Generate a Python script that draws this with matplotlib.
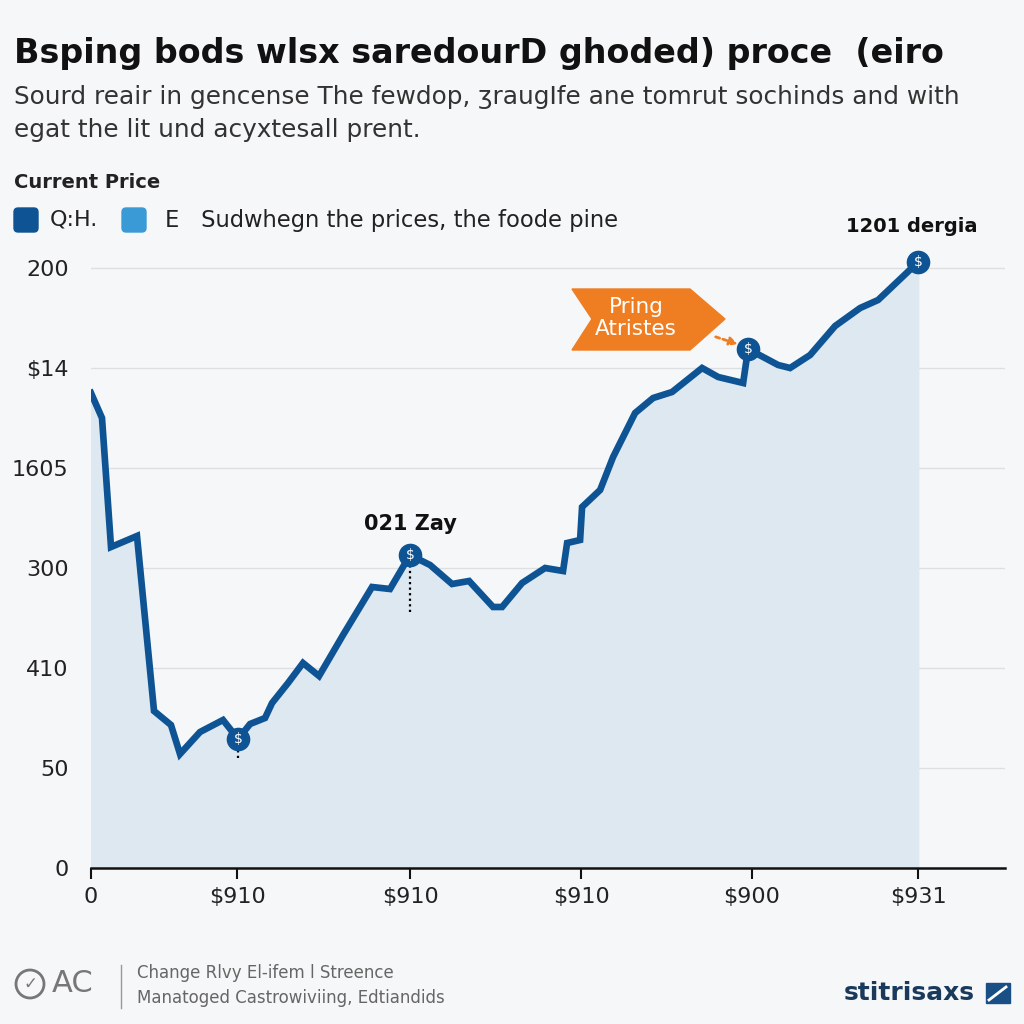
"""Price line chart with shaded area, header, legend and footer
"""

import matplotlib
matplotlib.use('Agg')
import matplotlib.pyplot as plt
from matplotlib.patches import Polygon, FancyBboxPatch, Circle

# Chart data
x_vals = [0.0, 1.33, 2.42, 5.56, 7.62, 9.67, 10.76, 13.18, 15.96, 17.78, 19.23, 21.04,
          21.89, 23.82, 25.63, 27.57, 30.47, 33.98, 36.15, 38.57, 40.99, 43.65, 45.71,
          48.61, 49.70, 52.12, 54.90, 57.07, 57.56, 59.13, 59.37, 61.55, 63.12, 65.78,
          67.96, 70.25, 73.88, 75.82, 78.84, 79.44, 83.07, 84.52, 86.94, 89.96, 92.99,
          95.16, 100.0]
prices = [4.75, 4.50, 3.21, 3.32, 1.57, 1.43, 1.14, 1.36, 1.48, 1.29, 1.44, 1.50,
          1.65, 1.85, 2.05, 1.92, 2.33, 2.81, 2.79, 3.13, 3.03, 2.84, 2.87,
          2.61, 2.61, 2.85, 3.00, 2.97, 3.25, 3.28, 3.61, 3.78, 4.11, 4.55,
          4.70, 4.76, 5.00, 4.91, 4.85, 5.19, 5.03, 5.00, 5.13, 5.42, 5.60,
          5.68, 6.06]

marker_x = [17.78, 38.57, 79.44, 100.0]
marker_y = [1.29, 3.13, 5.19, 6.06]
marker_glyph = ['$', '$', '$', '$']

x_ticks = [0, 17.7, 38.6, 59.3, 79.9, 100]
x_labels = ['0', '$910', '$910', '$910', '$900', '$931']
y_ticks = [0, 1, 2, 3, 4, 5, 6]
y_labels = ['0', '50', '410', '300', '1605', '$14', '200']

# Colours
bg = '#f6f7f8'
line_blue = '#0e5494'
fill_blue = '#dde8f1'
light_blue = '#3a9ad6'
orange = '#ef7d22'

fig = plt.figure(figsize=(10.24, 10.24), dpi=100, facecolor=bg)
ax = fig.add_axes([91 / 1024, 1 - 868 / 1024, (1005 - 91) / 1024, (868 - 250) / 1024])
ax.set_facecolor(bg)

# Area and line
ax.fill_between(x_vals, prices, 0, color=fill_blue, zorder=1)
ax.plot(x_vals, prices, color=line_blue, lw=4.8, solid_joinstyle='miter', zorder=3)

# Dotted drop lines below two highlighted points
ax.vlines(marker_x[0], 1.10, marker_y[0], colors='black', linestyles=(0, (1, 1.5)), lw=1.6, zorder=2)
ax.vlines(marker_x[1], 2.56, marker_y[1], colors='black', linestyles=(0, (1, 1.5)), lw=1.6, zorder=2)

# Highlighted points
ax.plot(marker_x, marker_y, 'o', ms=16, color=line_blue, zorder=4)
for mx, my, g in zip(marker_x, marker_y, marker_glyph):
    ax.text(mx, my, g, color='white', fontsize=10, ha='center', va='center', zorder=5)

ax.text(marker_x[1], marker_y[1] + 0.31, '021 Zay', fontsize=15, fontweight='bold',
        ha='center', va='center', color='#111111')
ax.text(marker_x[3] - 0.8, marker_y[3] + 0.35, '1201 dergia', fontsize=14, fontweight='bold',
        ha='center', va='center', color='#111111')

# Axes styling
ax.set_xlim(0, 110.5)
ax.set_ylim(0, 6.18)
ax.set_yticks(y_ticks)
ax.set_yticklabels(y_labels, fontsize=16, color='#222222')
ax.set_xticks(x_ticks)
ax.set_xticklabels(x_labels, fontsize=16, color='#222222')
ax.tick_params(axis='y', length=0, pad=16)
ax.tick_params(axis='x', length=8, width=1.5, color='#111111', pad=6)
ax.grid(axis='y', color='#dedfe0', lw=1)
ax.set_axisbelow(True)
for side in ['top', 'right', 'left']:
    ax.spines[side].set_visible(False)
ax.spines['bottom'].set_color('#111111')
ax.spines['bottom'].set_linewidth(1.8)
ax.spines['bottom'].set_zorder(6)

# Orange callout banner
pts = [(572, 289), (690, 289), (725, 319), (690, 350), (572, 350), (592, 319)]
banner = Polygon([(px / 1024, 1 - py / 1024) for px, py in pts], closed=True,
                 transform=fig.transFigure, color=orange, zorder=10)
fig.patches.append(banner)
fig.text(636 / 1024, 1 - 318 / 1024, 'Pring\nAtristes', color='white', fontsize=15.5,
         ha='center', va='center', linespacing=1.1, zorder=11)
ax.annotate('', xy=(marker_x[2] - 0.9, marker_y[2] + 0.04), xytext=(75.2, 5.32),
            arrowprops=dict(arrowstyle='-|>', color=orange, lw=2, linestyle=(0, (1.5, 1.2)),
                            mutation_scale=12), zorder=10)

# Header texts
fig.text(14 / 1024, 1 - 53 / 1024, 'Bsping bods wlsx saredourD ghoded) proce  (eiro',
         fontsize=24, fontweight='bold', color='#111111', va='center')
fig.text(14 / 1024, 1 - 97 / 1024, 'Sourd reair in gencense The fewdop, \u0292raugIfe ane tomrut sochinds and with',
         fontsize=17.8, color='#333333', va='center')
fig.text(14 / 1024, 1 - 130 / 1024, 'egat the lit und acyxtesall prent.',
         fontsize=17.8, color='#333333', va='center')
fig.text(14 / 1024, 1 - 183 / 1024, 'Current Price', fontsize=14, fontweight='bold',
         color='#222222', va='center')

# Legend
for left, col in [(14, line_blue), (122, light_blue)]:
    sq = FancyBboxPatch((left / 1024, 1 - 232 / 1024), 24 / 1024, 24 / 1024,
                        boxstyle='round,pad=0,rounding_size=0.004', transform=fig.transFigure,
                        color=col)
    fig.patches.append(sq)
fig.text(50 / 1024, 1 - 220 / 1024, 'Q:H.', fontsize=16, color='#222222', va='center')
fig.text(165 / 1024, 1 - 220 / 1024, 'E   Sudwhegn the prices, the foode pine', fontsize=16.3,
         color='#222222', va='center')

# Footer
icon = Circle((30 / 1024, 1 - 984 / 1024), 14 / 1024, transform=fig.transFigure,
              fill=False, ec='#777777', lw=2)
fig.patches.append(icon)
fig.text(30 / 1024, 1 - 984 / 1024, '\u2713', fontsize=12, color='#777777',
         ha='center', va='center')
fig.text(52 / 1024, 1 - 984 / 1024, 'AC', fontsize=22, color='#777777', va='center')
fig.add_artist(plt.Line2D([121 / 1024, 121 / 1024], [1 - 1008 / 1024, 1 - 965 / 1024],
                          transform=fig.transFigure, color='#999999', lw=1))
fig.text(137 / 1024, 1 - 973 / 1024, 'Change Rlvy El-ifem l Streence', fontsize=12,
         color='#666666', va='center')
fig.text(137 / 1024, 1 - 998 / 1024, 'Manatoged Castrowiviing, Edtiandids', fontsize=12,
         color='#666666', va='center')
fig.text(975 / 1024, 1 - 993 / 1024, 'stitrisaxs', fontsize=18, fontweight='bold',
         color='#1a3a5c', ha='right', va='center')
logo = FancyBboxPatch((986 / 1024, 1 - 1003 / 1024), 24 / 1024, 20 / 1024,
                      boxstyle='square,pad=0', transform=fig.transFigure, color='#1a4f85')
fig.patches.append(logo)
fig.add_artist(plt.Line2D([989 / 1024, 1006 / 1024], [1 - 1000 / 1024, 1 - 987 / 1024],
                          transform=fig.transFigure, color='white', lw=2))

fig.savefig('out.png', dpi=100, facecolor=bg)
